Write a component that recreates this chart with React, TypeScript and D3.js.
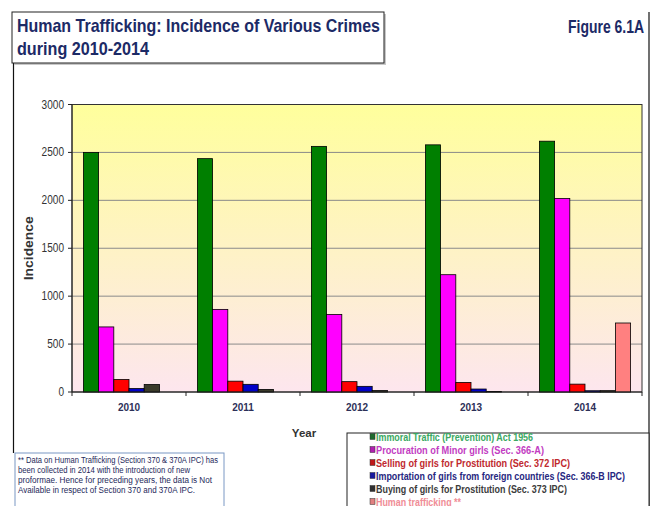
import React from "react";
import * as d3 from "d3";

const years = ["2010", "2011", "2012", "2013", "2014"];
const seriesNames = [
  "Immoral Traffic (Prevention) Act 1956",
  "Procuration of Minor girls (Sec. 366-A)",
  "Selling of girls for Prostitution (Sec. 372 IPC)",
  "Importation of girls from foreign countries (Sec. 366-B IPC)",
  "Buying of girls for Prostitution (Sec. 373 IPC)",
  "Human trafficking **",
];
const immoralTraffic = [2499, 2435, 2563, 2579, 2617];
const procuration = [679, 862, 809, 1224, 2020];
const selling = [130, 113, 108, 100, 82];
const importation = [36, 80, 59, 31, 13];
const buying = [78, 27, 15, 6, 14];
const humanTrafficking = [0, 0, 0, 0, 720];
const yTicks = [0, 500, 1000, 1500, 2000, 2500, 3000];

const seriesValues = [immoralTraffic, procuration, selling, importation, buying, humanTrafficking];
const barColors = ["#007f00", "#ff00ff", "#ff0000", "#0000c8", "#3a3a2a", "#ff8080"];
const legendTextColors = ["#3aa862", "#c23cc2", "#c0282e", "#262680", "#3c3c3c", "#f08c96"];
const swatchColors = ["#1f6b2e", "#b020b0", "#c01818", "#1818a0", "#303030", "#e08080"];
const legendWidths = [157, 168, 194, 249, 191, 85];

const footnote = [
  "** Data on Human Trafficking  (Section 370 & 370A IPC) has",
  "been collected in 2014 with the introduction of new",
  "proformae. Hence for preceding years, the data is Not",
  "Available  in respect of Section 370 and 370A IPC.",
];
const footnoteWidths = [200, 172, 194, 177];

export default function App() {
  const W = 660, H = 506;
  const left = 72, right = 642, top = 104.5, bottom = 392;
  const x = d3.scaleBand<string>().domain(years).range([left, right]).paddingInner(0).paddingOuter(0);
  const band = x.bandwidth();
  const inner = band * 6 / 7.5;
  const x1 = d3.scaleBand<number>().domain(d3.range(6)).range([0, inner]).padding(0);
  const y = d3.scaleLinear().domain([0, 3000]).range([bottom, top]);
  const navy = "#1c2a66";
  const arial = "'Liberation Sans', Arial, sans-serif";

  return (
    <div style={{ position: "absolute", left: 0, top: 0 }}>
      <svg width={W} height={H} style={{ display: "block", background: "#fff" }}>
        <defs>
          <linearGradient id="bg" x1="0" y1="0" x2="0" y2="1">
            <stop offset="0" stopColor="#ffff9c" />
            <stop offset="1" stopColor="#fde6ee" />
          </linearGradient>
        </defs>
        {/* frame */}
        <line x1={13.5} y1={12} x2={13.5} y2={453} stroke="#111" strokeWidth={1.2} />
        <line x1={649} y1={12} x2={649} y2={506} stroke="#111" strokeWidth={1.2} />
        {/* title box */}
        <rect x={14} y={14} width={372} height={51} fill="#c8c8c8" />
        <rect x={12} y={12} width={372} height={51} fill="#fff" stroke="#222" strokeWidth={1} />
        <text x={17} y={32} fontFamily={arial} fontWeight="bold" fontSize={19} fill={navy}
          textLength={363} lengthAdjust="spacingAndGlyphs">
          Human Trafficking:  Incidence of Various Crimes
        </text>
        <text x={17} y={55} fontFamily={arial} fontWeight="bold" fontSize={19} fill={navy}
          textLength={132} lengthAdjust="spacingAndGlyphs">
          during 2010-2014
        </text>
        <text x={568} y={33} fontFamily={arial} fontWeight="bold" fontSize={18} fill={navy}
          textLength={76} lengthAdjust="spacingAndGlyphs">
          Figure 6.1A
        </text>

        {/* plot background */}
        <rect x={left} y={top} width={right - left} height={bottom - top} fill="url(#bg)" />
        {yTicks.filter(t => t > 0 && t < 3000).map(t => (
          <line key={t} x1={left} x2={right} y1={y(t)} y2={y(t)} stroke="#8a8a8a" strokeWidth={1} />
        ))}
        <rect x={left} y={top} width={right - left} height={bottom - top} fill="none" stroke="#333" strokeWidth={1} />

        {/* bars */}
        {years.map((yr, i) => (
          <g key={yr} transform={`translate(${(x(yr) as number) + (band - inner) / 2},0)`}>
            {seriesValues.map((vals, s) =>
              vals[i] > 0 ? (
                <rect
                  key={s}
                  x={x1(s) as number}
                  y={y(vals[i])}
                  width={x1.bandwidth()}
                  height={bottom - y(vals[i])}
                  fill={barColors[s]}
                  stroke="#000"
                  strokeWidth={0.8}
                />
              ) : null
            )}
          </g>
        ))}

        {/* axes */}
        <line x1={left} x2={left} y1={top} y2={bottom} stroke="#222" strokeWidth={1} />
        <line x1={left} x2={right} y1={bottom} y2={bottom} stroke="#222" strokeWidth={1.2} />
        {yTicks.map(t => {
          const s = String(t);
          return (
            <g key={t}>
              <line x1={left - 4} x2={left} y1={y(t)} y2={y(t)} stroke="#222" />
              <text x={64 - s.length * 5.6} y={y(t) + 4} fontFamily={arial} fontSize={12} fill="#333"
                textLength={s.length * 5.6} lengthAdjust="spacingAndGlyphs">
                {s}
              </text>
            </g>
          );
        })}
        {d3.range(6).map(k => (
          <line key={k} x1={left + k * band} x2={left + k * band} y1={bottom} y2={bottom + 4} stroke="#222" />
        ))}
        {years.map(yr => (
          <text key={yr} x={(x(yr) as number) + band / 2} y={411} textAnchor="middle" fontFamily={arial} fontWeight="bold" fontSize={10} fill="#2d3058">
            {yr}
          </text>
        ))}
        <text x={304} y={437} textAnchor="middle" fontFamily={arial} fontWeight="bold" fontSize={11.5} fill="#333">
          Year
        </text>
        <text transform={`translate(33,${(top + bottom) / 2}) rotate(-90)`} x={-32} fontFamily={arial} fontWeight="bold" fontSize={12} fill="#333"
          textLength={64} lengthAdjust="spacingAndGlyphs">
          Incidence
        </text>

        {/* footnote box */}
        <rect x={15} y={453} width={209} height={60} fill="#fff" stroke="#7a98c4" strokeWidth={1} />
        {footnote.map((l, i) => (
          <text key={i} x={18} y={463 + i * 10} fontFamily={arial} fontSize={8.5} fill="#24285a"
            textLength={footnoteWidths[i]} lengthAdjust="spacingAndGlyphs">
            {l}
          </text>
        ))}

        {/* legend */}
        <rect x={347} y={433} width={302} height={80} fill="#fff" stroke="#222" strokeWidth={1} />
        {seriesNames.map((n, i) => (
          <g key={n}>
            <rect x={370} y={433.5 + i * 13} width={5} height={6} fill={swatchColors[i]} stroke="#333" strokeWidth={0.5} />
            <text x={376} y={441 + i * 13} fontFamily={arial} fontWeight="bold" fontSize={11} fill={legendTextColors[i]}
              textLength={legendWidths[i]} lengthAdjust="spacingAndGlyphs">
              {n}
            </text>
          </g>
        ))}
      </svg>
    </div>
  );
}
